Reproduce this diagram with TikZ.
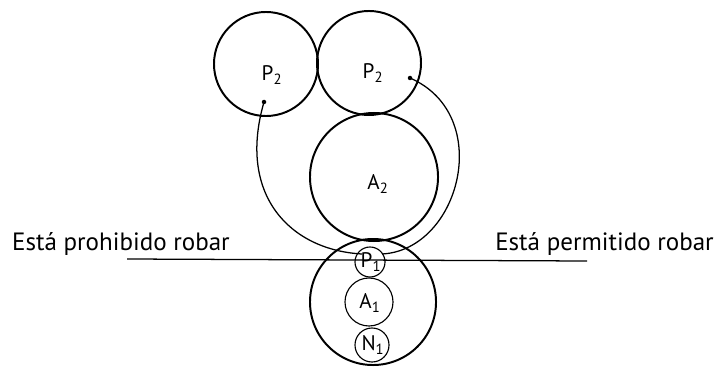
\documentclass[tikz,border=0pt]{standalone}
\usepackage{fontspec}
\setmainfont{PT Sans}
\usetikzlibrary{positioning, calc}

\begin{document}
\begin{tikzpicture}[
    x=0.025cm, y=-0.025cm,
    ring/.style={draw, circle, line width=1.4pt, inner sep=0pt},
    smallring/.style={draw, circle, line width=0.8pt, inner sep=0pt},
    loop/.style={line width=0.9pt},
    lbl/.style={font=\fontsize{15}{17}\selectfont, inner sep=0pt},
    tag/.style={font=\fontsize{17.8}{20}\selectfont, inner sep=0pt}
]
    \useasboundingbox (0,0) rectangle (720,367);

    % ================= CIRCLES =================
    \node[ring, minimum size=2.6cm] (P2left) at (266,64) {};
    \node[ring, minimum size=2.6cm] (P2right) at (369,63) {};
    \node[ring, minimum size=3.2cm] (A2) at (374,177) {};
    \node[ring, minimum size=3.15cm] (outer) at (373,302) {};
    \node[smallring, minimum size=0.75cm] (P1) at (370,262) {};
    \node[smallring, minimum size=1.2cm] (A1) at (369,302) {};
    \node[smallring, minimum size=0.85cm] (N1) at (372,345) {};

    % ================= LABELS =================
    \node[lbl] (tP2left) at (272,75) {P\textsubscript{2}};
    \node[lbl] (tP2right) at (373,73) {P\textsubscript{2}};
    \node[lbl] (tA2) at (378,184) {A\textsubscript{2}};
    \node[lbl] (tP1) at (371,262) {P\textsubscript{1}};
    \node[lbl] (tA1) at (370,303) {A\textsubscript{1}};
    \node[lbl] (tN1) at (373,345) {N\textsubscript{1}};

    % ================= BORDER LINE =================
    \coordinate (lineL) at (127,259);
    \coordinate (lineR) at (587,261);
    \draw[line width=0.9pt] (lineL) -- (lineR);
    \node[tag, anchor=east] (forbid) at (230,244) {Está prohibido robar};
    \node[tag, anchor=west] (allow) at (495,244) {Está permitido robar};

    % ================= LOOPS =================
    \coordinate (startL) at (264,102);
    \coordinate (endL) at (362,254);
    \coordinate (startR) at (410,78);
    \coordinate (endR) at (382,254);
    \draw[loop] (startL) .. controls (237,195) and (290,250) .. (endL);
    \draw[loop] (startR) .. controls (495,115) and (460,250) .. (endR);
    \fill (startL) circle (1.6pt);
    \fill (startR) circle (1.6pt);

\end{tikzpicture}
\end{document}
